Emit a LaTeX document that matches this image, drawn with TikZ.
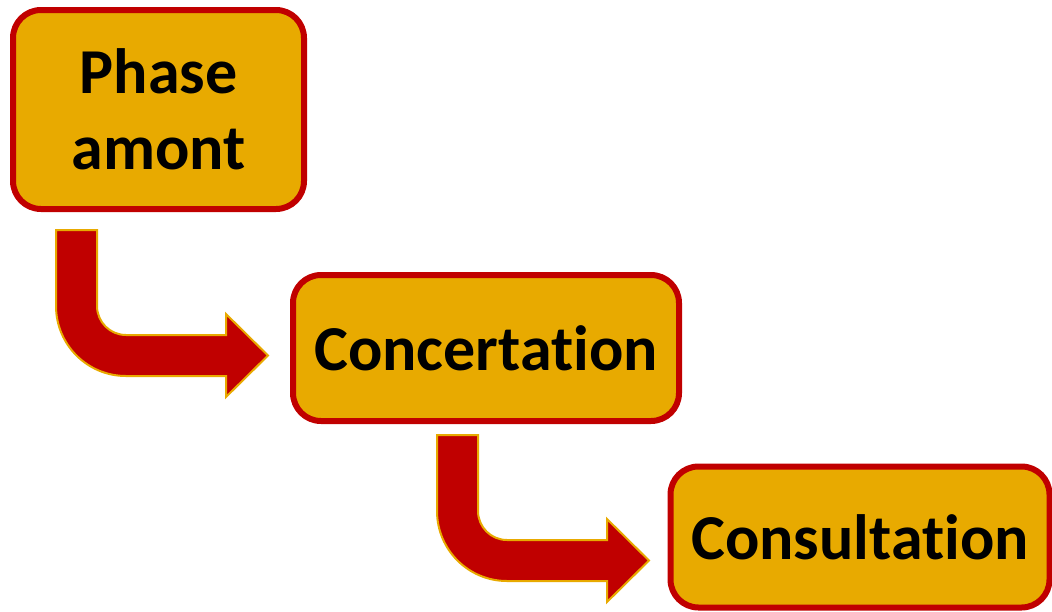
\documentclass[tikz,border=0pt]{standalone}
\usepackage{fontspec}
\setmainfont[Ligatures=NoCommon]{Carlito}
\usepackage{tikz}
\usetikzlibrary{calc}
\usetikzlibrary{positioning}

\definecolor{boxred}{HTML}{C00000}
\definecolor{boxgold}{HTML}{E8AA00}

\tikzset{
  phasebox/.style={draw=boxred,fill=boxgold,line width=6pt,rounded corners=28pt,
    align=center,inner sep=0pt,font=\fontsize{64}{76}\selectfont\bfseries},
  bentarrow/.pic={
    \filldraw[fill=boxred,draw=boxgold,line width=2pt,line join=miter]
      (0,0) -- (41,0) -- (41,-76) arc (180:270:29) -- (170,-105) -- (170,-84)
      -- (212,-125.5) -- (170,-167) -- (170,-146) -- (70,-146)
      arc (270:180:70) -- cycle;
  }
}

\begin{document}
\begin{tikzpicture}[line cap=round,line join=round,x=1pt,y=1pt]
% Draw region settings
\useasboundingbox (0,0) rectangle (1052,-611);
% Boxes
\node[phasebox,minimum width=291pt,minimum height=199pt] (amont) at (158.5,-109.5) {Phase\\amont};
\node[phasebox,minimum width=386pt,minimum height=146pt] (concert) at (486,-348) {Concertation};
\node[phasebox,minimum width=379pt,minimum height=141pt] (consult) at (860,-537) {Consultation};
% Arrows
\pic at (56,-230) {bentarrow};
\pic at (437,-435) {bentarrow};
\end{tikzpicture}
\end{document}
